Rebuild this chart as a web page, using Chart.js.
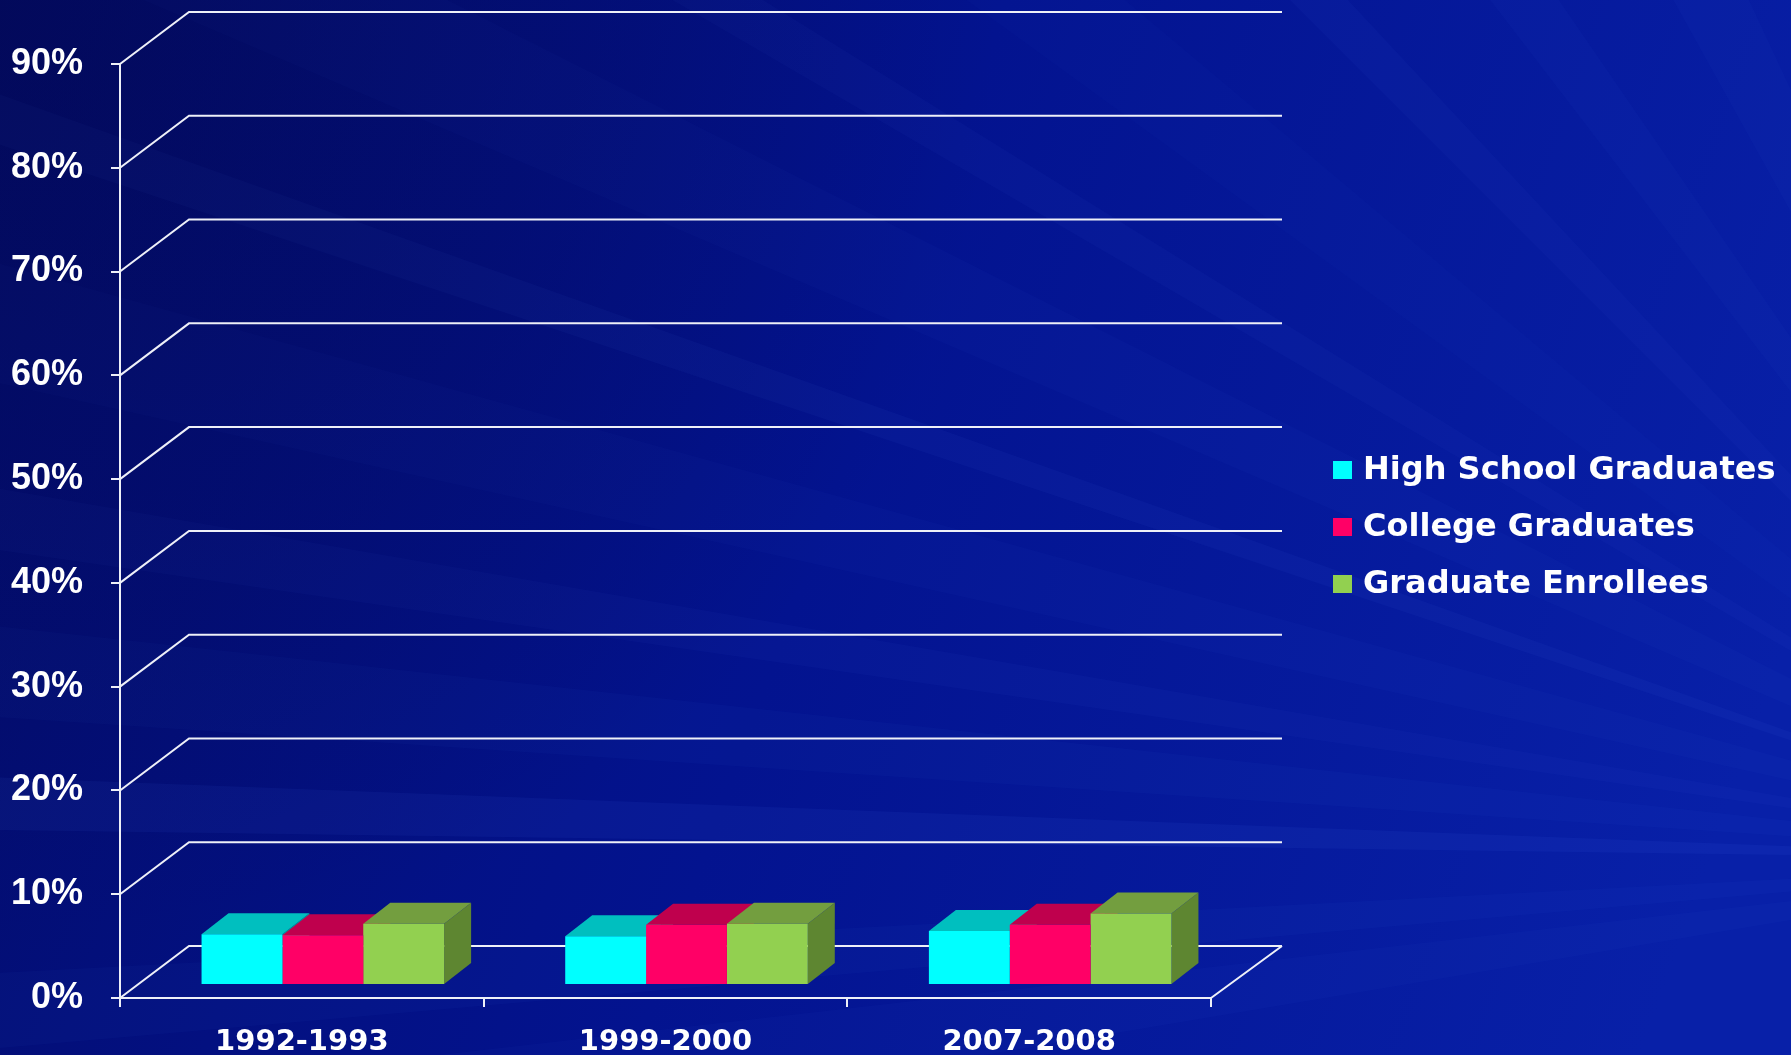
<!DOCTYPE html>
<html>
<head>
<meta charset="utf-8">
<title>Enrollment shares</title>
<script src="https://cdn.jsdelivr.net/npm/chart.js@4.4.1/dist/chart.umd.min.js"></script>
<style>
  html, body { margin: 0; padding: 0; background: #041494; overflow: hidden; }
  canvas { display: block; }
</style>
</head>
<body>
<canvas id="shareChart" width="1791" height="1055"></canvas>
<script>
// values (percent)
const categories = ['1992-1993', '1999-2000', '2007-2008'];
const seriesNames = ['High School Graduates', 'College Graduates', 'Graduate Enrollees'];
const highSchool = [4.9, 4.7, 5.2];
const college = [4.8, 5.8, 5.8];
const gradEnrollees = [5.9, 5.9, 6.9];
const yMax = 90;
const yStep = 10;

// face colours: front, top, side
const faceColors = [
    ['#00ffff', '#00bfbf', '#009c9c'],
    ['#ff0066', '#bf004d', '#9a003e'],
    ['#92d050', '#739e3f', '#5e8631']
];

// back wall offset of the grid and bar depth
const WALL_DX = 69, WALL_DY = 52;
const BAR_SHIFT_X = 21, BAR_SHIFT_Y = 13;
const BAR_DX = 27, BAR_DY = 21;

const backdrop = {
    id: 'backdrop',
    beforeDraw(chart) {
        const ctx = chart.ctx;
        const w = chart.width, h = chart.height;
        ctx.save();
        let g = ctx.createLinearGradient(0, 0, w, h * 0.6);
        g.addColorStop(0, '#030c6c');
        g.addColorStop(0.5, '#03138f');
        g.addColorStop(1, '#0820a8');
        ctx.fillStyle = g;
        ctx.fillRect(0, 0, w, h);

        // faint light rays fanning out from the lower right
        const ox = 2150, oy = 860, r = 3000;
        const rays = [
            [181.5, 0.7, 0.07], [185, 1.2, 0.035], [189, 0.8, 0.04],
            [194, 1.5, 0.03], [199, 0.6, 0.05], [205, 1.8, 0.03],
            [211, 0.8, 0.04], [218, 2.0, 0.025], [226, 1.0, 0.04],
            [234, 1.5, 0.03], [243, 2.0, 0.03], [252, 1.2, 0.03],
            [176, 1.0, 0.035], [172, 1.5, 0.03]
        ];
        rays.forEach(([a, hw, alpha]) => {
            const a1 = (a - hw) * Math.PI / 180, a2 = (a + hw) * Math.PI / 180;
            ctx.beginPath();
            ctx.moveTo(ox, oy);
            ctx.lineTo(ox + r * Math.cos(a1), oy + r * Math.sin(a1));
            ctx.lineTo(ox + r * Math.cos(a2), oy + r * Math.sin(a2));
            ctx.closePath();
            ctx.fillStyle = 'rgba(90,130,255,' + alpha + ')';
            ctx.fill();
        });

        // darker corner at the top left
        g = ctx.createRadialGradient(0, 0, 0, 0, 0, 1000);
        g.addColorStop(0, 'rgba(2,6,70,0.45)');
        g.addColorStop(1, 'rgba(2,6,70,0)');
        ctx.fillStyle = g;
        ctx.fillRect(0, 0, w, h);
        ctx.restore();
    }
};

const depth3d = {
    id: 'depth3d',
    beforeDatasetsDraw(chart) {
        const ctx = chart.ctx;
        const area = chart.chartArea;
        const yScale = chart.scales.y;

        // grid lines folded onto the back wall, plus the floor outline
        ctx.save();
        ctx.strokeStyle = '#eef0f8';
        ctx.lineWidth = 2;
        ctx.beginPath();
        yScale.ticks.forEach(t => {
            const y = yScale.getPixelForValue(t.value);
            ctx.moveTo(area.left, y);
            ctx.lineTo(area.left + WALL_DX, y - WALL_DY);
            ctx.lineTo(area.right + WALL_DX + 2, y - WALL_DY);
        });
        const y0 = yScale.getPixelForValue(0);
        ctx.moveTo(area.right, y0);
        ctx.lineTo(area.right + WALL_DX + 2, y0 - WALL_DY);
        ctx.stroke();
        ctx.restore();

        // bars sit half way into the floor
        ctx.save();
        ctx.translate(BAR_SHIFT_X, -BAR_SHIFT_Y);
        const metas = chart.data.datasets.map((d, i) => chart.getDatasetMeta(i));
        for (let c = 0; c < categories.length; c++) {
            metas.forEach((meta, i) => {
                const bar = meta.data[c];
                const left = bar.x - bar.width / 2, right = bar.x + bar.width / 2;
                const top = bar.y, base = bar.base;
                ctx.fillStyle = faceColors[i][2];
                ctx.beginPath();
                ctx.moveTo(right, top);
                ctx.lineTo(right + BAR_DX, top - BAR_DY);
                ctx.lineTo(right + BAR_DX, base - BAR_DY);
                ctx.lineTo(right, base);
                ctx.closePath();
                ctx.fill();
                ctx.fillStyle = faceColors[i][1];
                ctx.beginPath();
                ctx.moveTo(left, top);
                ctx.lineTo(right, top);
                ctx.lineTo(right + BAR_DX, top - BAR_DY);
                ctx.lineTo(left + BAR_DX, top - BAR_DY);
                ctx.closePath();
                ctx.fill();
            });
        }
    },
    afterDatasetsDraw(chart) {
        chart.ctx.restore();
    }
};

const sideLegend = {
    id: 'sideLegend',
    afterDraw(chart) {
        const ctx = chart.ctx;
        ctx.save();
        ctx.font = 'bold 32px "DejaVu Sans", sans-serif';
        ctx.textBaseline = 'alphabetic';
        ctx.textAlign = 'left';
        chart.data.datasets.forEach((ds, i) => {
            const base = 479 + i * 57;
            ctx.fillStyle = ds.backgroundColor;
            ctx.fillRect(1333, base - 18, 19, 18);
            ctx.fillStyle = '#ffffff';
            ctx.fillText(ds.label, 1363, base);
        });
        ctx.restore();
    }
};

const ctx = document.getElementById('shareChart').getContext('2d');
new Chart(ctx, {
    type: 'bar',
    data: {
        labels: categories,
        datasets: [
            { label: seriesNames[0], data: highSchool, backgroundColor: faceColors[0][0] },
            { label: seriesNames[1], data: college, backgroundColor: faceColors[1][0] },
            { label: seriesNames[2], data: gradEnrollees, backgroundColor: faceColors[2][0] }
        ]
    },
    options: {
        responsive: false,
        animation: false,
        layout: { padding: { top: 64, right: 580, left: 0, bottom: 0 } },
        datasets: {
            bar: { barPercentage: 1, categoryPercentage: 0.667, borderWidth: 0 }
        },
        plugins: {
            legend: { display: false },
            tooltip: { enabled: false }
        },
        scales: {
            x: {
                grid: { offset: true, drawOnChartArea: false, tickLength: 9, color: '#eef0f8', lineWidth: 2 },
                border: { color: '#eef0f8', width: 2 },
                ticks: {
                    color: '#ffffff',
                    padding: 18,
                    font: { family: '"DejaVu Sans", sans-serif', weight: 'bold', size: 29 }
                },
                afterFit: s => { s.height = 57; }
            },
            y: {
                min: 0,
                max: yMax,
                grid: { drawOnChartArea: false, tickLength: 9, color: '#eef0f8', lineWidth: 2 },
                border: { color: '#eef0f8', width: 2 },
                ticks: {
                    stepSize: yStep,
                    color: '#ffffff',
                    padding: 28,
                    font: { family: '"Liberation Sans", Arial, sans-serif', weight: 'bold', size: 36 },
                    callback: v => v + '%'
                },
                afterFit: s => { s.width = 120; }
            }
        }
    },
    plugins: [backdrop, depth3d, sideLegend]
});
</script>
</body>
</html>
